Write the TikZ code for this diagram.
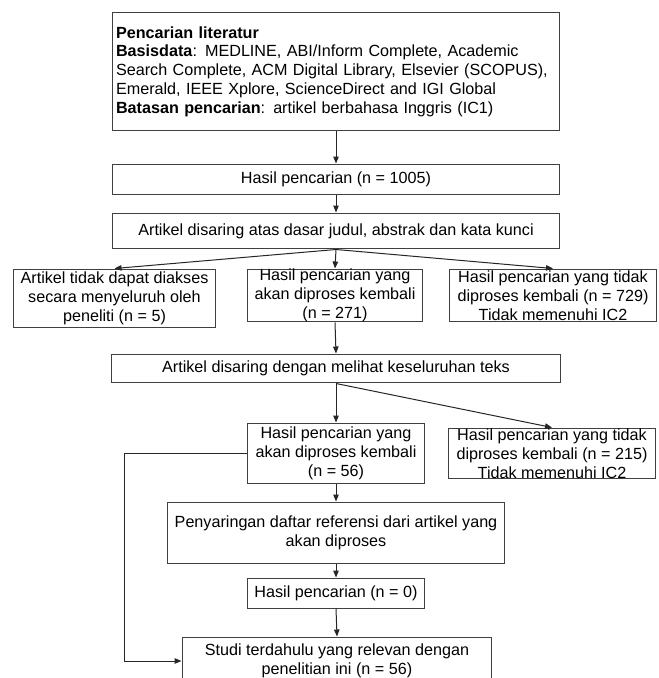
\documentclass[tikz,border=0pt]{standalone}
\usepackage{fontspec}
\setmainfont{Liberation Sans}
\usetikzlibrary{arrows.meta}
\begin{document}
\begin{tikzpicture}[x=0.02cm,y=-0.02cm,
    flowbox/.style={draw=black!75, line width=0.02cm, rectangle, inner sep=0pt,
      align=center, text=black, font=\fontsize{9.2pt}{10.7pt}\selectfont},
    flowarrow/.style={draw=black!85, line width=0.02cm,
      -{Triangle[length=0.14cm,width=0.11cm]}}]
                \useasboundingbox (0,0) rectangle (658,678);

                % Drawing box literatur
                \node [flowbox, align=left, text width=8.8cm, minimum width=8.96cm, minimum height=2.38cm] (lit) at (336,71.5)
                  {\textbf{Pencarian literatur}\\
                   \textbf{Basisdata}: MEDLINE, ABI/Inform Complete, Academic\\
                   Search Complete, ACM Digital Library, Elsevier (SCOPUS),\\
                   Emerald, IEEE Xplore, ScienceDirect and IGI Global\\
                   \textbf{Batasan pencarian}: artikel berbahasa Inggris (IC1)};%

                % Drawing box hasil
                \node [flowbox, minimum width=8.96cm, minimum height=0.62cm] (res) at (336,179.5)
                  {Hasil pencarian (n = 1005)};%

                % Drawing box saring judul
                \node [flowbox, minimum width=8.96cm, minimum height=0.72cm] (scr) at (336,231)
                  {Artikel disaring atas dasar judul, abstrak dan kata kunci};%

                % Drawing row of three boxes
                \node [flowbox, minimum width=4.06cm, minimum height=1.18cm] (noacc) at (114.5,298.5)
                  {Artikel tidak dapat diakses\\secara menyeluruh oleh\\peneliti (n = 5)};%
                \node [flowbox, minimum width=3.52cm, minimum height=1.06cm] (keepa) at (335,295.5)
                  {Hasil pencarian yang\\akan diproses kembali\\(n = 271)};%
                \node [flowbox, minimum width=4.16cm, minimum height=1.06cm] (dropa) at (553,295.5)
                  {Hasil pencarian yang tidak\\diproses kembali (n = 729)\\Tidak memenuhi IC2};%

                % Drawing box saring teks
                \node [flowbox, minimum width=8.98cm, minimum height=0.58cm] (full) at (336,368.5)
                  {Artikel disaring dengan melihat keseluruhan teks};%

                % Drawing row of two boxes
                \node [flowbox, minimum width=3.56cm, minimum height=1.22cm] (keepb) at (336,453.5)
                  {Hasil pencarian yang\\akan diproses kembali\\(n = 56)};%
                \node [flowbox, minimum width=4.16cm, minimum height=1.02cm] (dropb) at (552,453.5)
                  {Hasil pencarian yang tidak\\diproses kembali (n = 215)\\Tidak memenuhi IC2};%

                % Drawing box referensi
                \node [flowbox, minimum width=6.76cm, minimum height=1.22cm] (refs) at (336,532.5)
                  {Penyaringan daftar referensi dari artikel yang\\akan diproses};%

                % Drawing box hasil nol
                \node [flowbox, minimum width=3.56cm, minimum height=0.60cm] (zero) at (336,593)
                  {Hasil pencarian (n = 0)};%

                % Drawing box studi
                \node [flowbox, minimum width=6.2cm, minimum height=0.96cm] (final) at (337,661)
                  {Studi terdahulu yang relevan dengan\\penelitian ini (n = 56)};%

                % Drawing connectors
                \draw [flowarrow] (lit.south) -- (res.north);%
                \draw [flowarrow] (res.south) -- (scr.north);%
                \draw [flowarrow] (scr.south) -- (noacc.north);%
                \draw [flowarrow] (scr.south) -- (keepa.north);%
                \draw [flowarrow] (scr.south) -- (dropa.north);%
                \draw [flowarrow] (keepa.south) -- (full.north);%
                \draw [flowarrow] (full.south) -- (keepb.north);%
                \draw [flowarrow] (full.south) -- (dropb.north);%
                \draw [flowarrow] (keepb.south) -- (refs.north);%
                \draw [flowarrow] (refs.south) -- (zero.north);%
                \draw [flowarrow] (zero.south) -- (final.north);%

                % Drawing side path
                \coordinate (bend) at (124,661);%
                \draw [flowarrow] (keepb.west) -| (bend) -- (final.west);%
\end{tikzpicture}
\end{document}
